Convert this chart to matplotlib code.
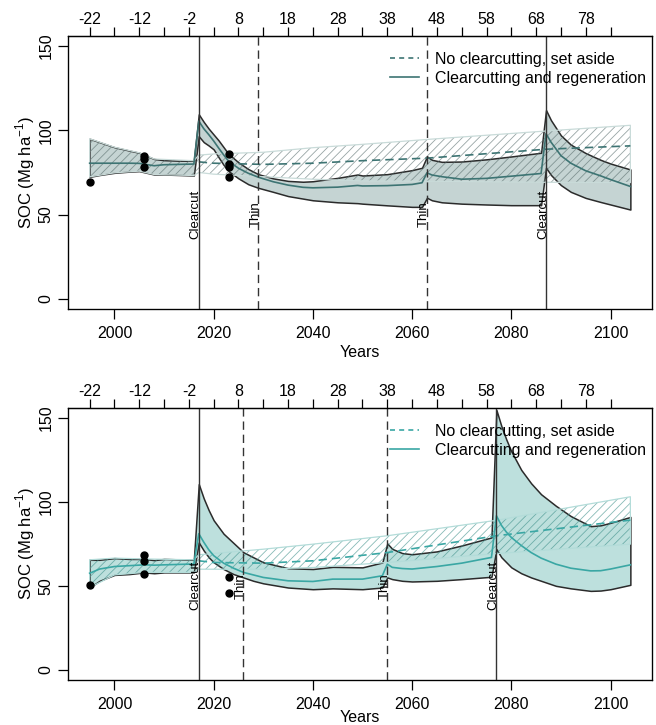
import matplotlib
matplotlib.use('Agg')
import matplotlib.pyplot as plt
from matplotlib.lines import Line2D

plt.rcParams['font.family'] = ['Liberation Sans', 'DejaVu Sans']
plt.rcParams['font.size'] = 11.5
plt.rcParams['hatch.linewidth'] = 0.6

# ---- panel 1 (top) ----
years1 = [1995, 1997, 2000, 2003, 2005, 2008, 2010, 2013, 2016, 2017, 2018, 2019, 2020,
          2021, 2022, 2023, 2025, 2027, 2029, 2032, 2035, 2038, 2040, 2045, 2049, 2050,
          2055, 2060, 2062, 2063, 2064, 2066, 2070, 2075, 2080, 2086, 2087, 2088, 2090,
          2092, 2095, 2098, 2100, 2104]
upper1 = [95, 93, 90, 88, 86.7, 83, 82.3, 82, 82, 109.5, 105, 101, 97.5,
          94, 90, 86, 81, 77, 74, 71.5, 70, 69.5, 69.8, 71.8, 73.8, 73.2,
          74, 76.4, 77.8, 84.5, 82.5, 81.3, 81.5, 82.8, 84.5, 86.7, 112, 106, 97,
          91.5, 86.5, 82.5, 80.3, 76.8]
mean1 = [80.5, 80.5, 80.5, 80.5, 80.4, 79, 79.6, 79.8, 80, 105.5, 101, 97.5, 93.7,
         89.5, 85.5, 81.7, 77.5, 74.5, 72.2, 69.5, 67.5, 66.2, 65.9, 66.3, 67.3, 67,
         67.2, 67.9, 68.9, 74.8, 73.5, 72.5, 71, 71.5, 72.8, 74.4, 98, 93, 85,
         80.5, 76, 73, 70.8, 66.7]
lower1 = [72.4, 73.5, 74.8, 75.5, 75.8, 73.8, 73.8, 73.5, 73.2, 96.5, 93, 91, 88.7,
          84, 79.5, 75.8, 71.5, 68, 65.9, 63.5, 61, 59.5, 58.5, 57.3, 56.8, 56.5,
          55.5, 54.6, 54.6, 60, 58.5, 57.3, 56.5, 56, 55.6, 55.6, 77.8, 73.5, 67.5,
          63.5, 59.9, 57.5, 56, 53]
base_years1 = [1995, 2000, 2005, 2008, 2016, 2017, 2020, 2030, 2040, 2050, 2063, 2087, 2104]
base_up1 = [95, 90, 86.7, 83, 82, 85.3, 86, 87, 89.7, 91.7, 94.6, 99.6, 103]
base_low1 = [72.4, 74.8, 75.8, 73.8, 73.2, 75, 74, 72.5, 71, 70, 69.8, 69.2, 69]
dash_years1 = [2017, 2020, 2030, 2040, 2050, 2063, 2087, 2104]
dash_mean1 = [81.3, 80.5, 79.8, 80.5, 82, 83.5, 88.8, 90.8]
obs_x1 = [1995, 2006, 2006, 2006, 2023, 2023, 2023, 2023]
obs_y1 = [69.2, 85, 83, 78, 86, 80, 78, 72.3]
cut_years1 = [2017, 2087]
thin_years1 = [2029, 2063]

# ---- panel 2 (bottom) ----
years2 = [1995, 1997, 2000, 2003, 2006, 2008, 2010, 2016, 2017, 2018, 2019, 2020, 2022,
          2024, 2026, 2028, 2030, 2035, 2040, 2044, 2050, 2054, 2055, 2056, 2058, 2060,
          2065, 2070, 2076, 2077, 2078, 2079, 2080, 2082, 2084, 2086, 2089, 2092, 2096,
          2098, 2100, 2104]
upper2 = [65.5, 65.5, 66.5, 66, 66, 65.3, 66, 65.5, 110.5, 102, 95, 89, 81,
          75.5, 70, 67, 64, 60.5, 60, 61.3, 61, 63.9, 75.2, 72, 69.5, 68.8,
          70.5, 74, 78.8, 154.6, 145, 137, 130, 119, 111, 104.5, 97.6, 91.5, 85.5,
          86, 87.5, 91]
mean2 = [57.5, 60, 61.5, 62, 62.5, 62.3, 62.5, 63, 81, 76, 71.5, 68, 63.5,
         60.5, 58, 56.5, 55, 53, 52.6, 54, 54, 56, 62.9, 61, 60.3, 60,
         61.5, 63.5, 66.9, 91.7, 86, 82, 78.8, 74, 69.8, 66.5, 62.9, 60.5, 58.9,
         59, 60, 62.5]
lower2 = [49, 53, 56.5, 57, 58, 57.5, 58, 58, 75.8, 71, 67, 64, 60,
          57, 55, 53, 51.5, 49, 48, 48.5, 48, 49, 55, 54, 53, 52.6,
          53, 54, 55.4, 71.8, 67, 64, 61, 57.5, 55, 53, 50, 48.5, 47,
          47.2, 48, 50.6]
base_years2 = [1995, 2000, 2006, 2016, 2017, 2030, 2040, 2055, 2077, 2104]
base_up2 = [65.5, 66.5, 66, 65.5, 68.5, 71.8, 74.8, 79.8, 89, 103]
base_low2 = [49, 56.5, 58, 58, 59.9, 59.9, 60.9, 63.9, 69.2, 74.8]
dash_years2 = [2017, 2020, 2030, 2040, 2055, 2077, 2104]
dash_mean2 = [64.9, 63.9, 63.5, 64.9, 69.8, 79.8, 89.1]
obs_x2 = [1995, 2006, 2006, 2006, 2023, 2023]
obs_y2 = [50.4, 68.3, 64.5, 57, 55.5, 45.6]
cut_years2 = [2017, 2077]
thin_years2 = [2026, 2055]

top_ticks = [-22, -17, -12, -7, -2, 3, 8, 13, 18, 23, 28, 33, 38, 43, 48, 53, 58, 63, 68, 73, 78, 83]
top_labels = ['-22', '', '-12', '', '-2', '', '8', '', '18', '', '28', '', '38', '',
              '48', '', '58', '', '68', '', '78', '']
start_year = 2017
legend_labels = ['No clearcutting, set aside', 'Clearcutting and regeneration']
xlims = (1990.64, 2108.36)


def panel(ax, yrs, up, mn, lo, byrs, bup, blo, dyrs, dmn, ox, oy, cuts, thins,
          fill, line, hatchc, bedge, xpad):
    ax.fill_between(yrs, lo, up, facecolor=fill, edgecolor='#2b2b2b', linewidth=1.1, zorder=1)
    ax.fill_between(byrs, blo, bup, facecolor='none', edgecolor=hatchc, linewidth=0,
                    hatch='////', zorder=2)
    ax.fill_between(byrs, blo, bup, facecolor='none', edgecolor=bedge, linewidth=0.9, zorder=2)
    ax.plot(dyrs, dmn, color=line, lw=1.2, dashes=(5, 3), zorder=3)
    ax.plot(yrs, mn, color=line, lw=1.2, zorder=3)
    for c in cuts:
        ax.axvline(c, color='#333333', lw=1.0, zorder=4)
        ax.text(c, 50, 'Clearcut', rotation=90, rotation_mode='anchor', ha='center',
                va='baseline', fontsize=9.5, zorder=5)
    for t in thins:
        ax.axvline(t, color='#333333', lw=1.0, dashes=(6, 3.5), zorder=4)
        ax.text(t, 50, 'Thin', rotation=90, rotation_mode='anchor', ha='center',
                va='baseline', fontsize=9.5, zorder=5)
    ax.plot(ox, oy, 'o', color='black', ms=5, zorder=6)

    ax.set_xlim(*xlims)
    ax.set_ylim(-6, 156)
    ax.set_xticks([2000, 2020, 2040, 2060, 2080, 2100])
    ax.set_yticks([0, 50, 100, 150])
    ax.set_yticklabels(['0', '50', '100', '150'], rotation=90, va='center')
    ax.tick_params(length=7, width=0.9, pad=3.5)
    ax.tick_params(axis='x', pad=5)
    for s in ax.spines.values():
        s.set_linewidth(0.9)
    ax.set_xlabel('Years', labelpad=xpad)
    ax.set_ylabel('SOC (Mg ha$^{\\mathregular{-1}}$)', fontsize=12, labelpad=1)

    handles = [Line2D([], [], color=line, lw=1.2, dashes=(3, 2.5)),
               Line2D([], [], color=line, lw=1.2)]
    ax.legend(handles, legend_labels, loc='upper right', frameon=False,
              bbox_to_anchor=(1.017, 1.0), handlelength=1.8, handletextpad=1.0,
              labelspacing=0.25, borderaxespad=0.6)

    top = ax.twiny()
    top.set_xlim(*xlims)
    top.set_xticks([start_year + t for t in top_ticks])
    top.set_xticklabels(top_labels)
    top.tick_params(axis='x', length=6.5, width=0.9, pad=0)
    top.spines['top'].set_linewidth(0.9)


fig = plt.figure(figsize=(6.56, 7.25), dpi=100)
ax1 = fig.add_axes([0.1037, 0.5738, 0.8902, 0.3766])
ax2 = fig.add_axes([0.1037, 0.0621, 0.8902, 0.3756])

panel(ax1, years1, upper1, mean1, lower1, base_years1, base_up1, base_low1,
      dash_years1, dash_mean1, obs_x1, obs_y1, cut_years1, thin_years1,
      '#c5d4d3', '#3d7473', (0.33, 0.41, 0.41, 0.6), '#c9dbd9', 3)
panel(ax2, years2, upper2, mean2, lower2, base_years2, base_up2, base_low2,
      dash_years2, dash_mean2, obs_x2, obs_y2, cut_years2, thin_years2,
      '#bde0dd', '#3aa7a4', (0.22, 0.55, 0.53, 0.6), '#b3dcd9', -1)

fig.savefig('out.png', dpi=100)
